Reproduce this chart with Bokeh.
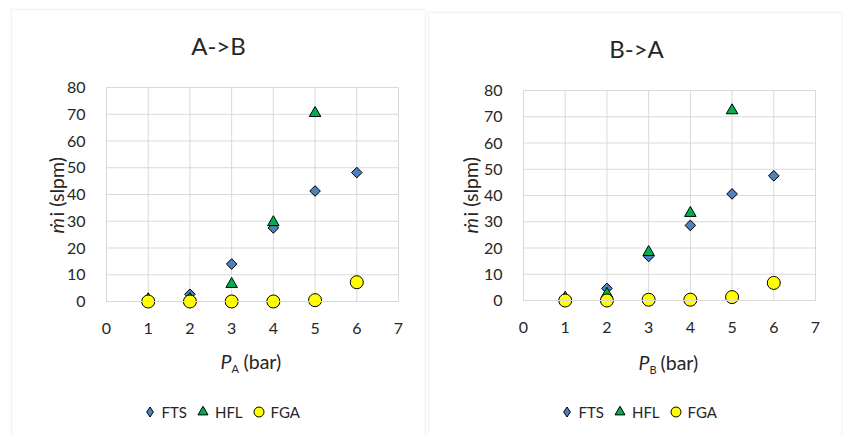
import math
from bokeh.plotting import figure
from bokeh.models import Label, BoxAnnotation, Legend, LegendItem, Range1d
from bokeh.layouts import row
from bokeh.embed import file_html
from bokeh.resources import INLINE

# Flow rate (slpm) vs. upstream pressure (bar) for the three devices
pressure = [1, 2, 3, 4, 5, 6]
hfl_pressure = [1, 2, 3, 4, 5]

ab_fts = [0.3, 2.7, 14.0, 27.5, 41.3, 48.2]
ab_hfl = [0.8, 0.9, 6.5, 29.6, 70.4]
ab_fga = [0.0, 0.0, 0.0, 0.0, 0.5, 7.2]

ba_fts = [0.3, 4.6, 16.8, 28.6, 40.6, 47.5]
ba_hfl = [1.0, 2.5, 18.4, 33.3, 72.4]
ba_fga = [0.0, 0.0, 0.3, 0.3, 1.3, 6.7]

x_ticks = [0, 1, 2, 3, 4, 5, 6, 7]
y_ticks = [0, 10, 20, 30, 40, 50, 60, 70, 80]
series_names = ["FTS", "HFL", "FGA"]

FONT = "Lato"
TEXT = "#262626"
GRID = "#d9d9d9"
BLUE = "#4f81bd"
GREEN = "#00b050"
YELLOW = "#ffff00"
H = 435
X_MIN, X_MAX = 0, 7
Y_MIN, Y_MAX = 0, 80
LABEL_SIZE = "19.5px"


def span_range(px_lo, px_hi, v_lo, v_hi, total, vertical=False):
    """Range over the whole canvas so that v_lo..v_hi lands on pixels px_lo..px_hi."""
    k = (v_hi - v_lo) / (px_hi - px_lo)

    def at(px):
        return v_lo + (px - px_lo) * k

    if vertical:  # canvas y grows downwards
        return Range1d(at(total), at(0))
    return Range1d(at(0), at(total))


def make_panel(title, sub, fts, hfl, fga, width, plot_box, border, title_xy, ylab_xy, xlab, leg_xy):
    left_px, right_px, top_px, bottom_px = plot_box
    p = figure(width=width, height=H, title=None,
               x_range=span_range(left_px, right_px, X_MIN, X_MAX, width),
               y_range=span_range(bottom_px, top_px, Y_MIN, Y_MAX, H, vertical=True),
               output_backend="svg", toolbar_location=None,
               min_border=0, background_fill_color="white", border_fill_color="white")
    p.outline_line_color = None
    p.xgrid.visible = False
    p.ygrid.visible = False

    # gridlines of the plot area (outer ones frame it)
    p.segment(x0=x_ticks, y0=Y_MIN, x1=x_ticks, y1=Y_MAX, line_color=GRID, line_width=1)
    p.segment(x0=X_MIN, y0=y_ticks, x1=X_MAX, y1=y_ticks, line_color=GRID, line_width=1)

    p.xaxis.fixed_location = Y_MIN
    p.yaxis.fixed_location = X_MIN
    p.xaxis.bounds = (X_MIN, X_MAX)
    p.yaxis.bounds = (Y_MIN, Y_MAX)
    for ax, ticks in ((p.xaxis, x_ticks), (p.yaxis, y_ticks)):
        ax.ticker = ticks
        ax.major_tick_line_color = None
        ax.minor_tick_line_color = None
        ax.axis_line_color = GRID
        ax.major_label_text_font = FONT
        ax.major_label_text_font_size = "16px"
        ax.major_label_text_color = TEXT
        ax.major_label_standoff = 15

    # diamond swatch for the legend, hidden under the rotated squares
    lf = p.scatter(pressure, fts, marker="diamond", size=10,
                   fill_color=BLUE, line_color="black", line_width=1)
    p.scatter(pressure, fts, marker="square", angle=math.pi / 4, size=7.5,
              fill_color=BLUE, line_color="black", line_width=1)
    lh = p.scatter(hfl_pressure, hfl, marker="triangle", size=11.5,
                   fill_color=GREEN, line_color="black", line_width=1)
    lg = p.scatter(pressure, fga, marker="circle", size=13,
                   fill_color=YELLOW, line_color="black", line_width=1)

    legend = Legend(items=[LegendItem(label=n, renderers=[r]) for n, r in zip(series_names, [lf, lh, lg])],
                    orientation="horizontal", location=leg_xy,
                    glyph_width=25, glyph_height=25, label_standoff=0, spacing=3,
                    padding=0, margin=0, border_line_color=None, background_fill_alpha=0,
                    label_text_font=FONT, label_text_font_size="15px", label_text_color=TEXT)
    p.add_layout(legend, "center")

    # chart area border
    p.add_layout(BoxAnnotation(left=border[0], right=border[1], top=H - border[2], bottom=-20,
                               left_units="screen", right_units="screen",
                               top_units="screen", bottom_units="screen",
                               fill_alpha=0, line_color=GRID, line_width=1.5))

    p.add_layout(Label(x=title_xy[0], y=H - title_xy[1], x_units="screen", y_units="screen",
                       text=title, text_align="center", text_baseline="middle",
                       text_font=FONT, text_font_size="24px", text_color=TEXT))

    # y axis title: italic m-dot followed by "i (slpm)"
    yx, yy = ylab_xy
    p.add_layout(Label(x=yx, y=H - yy, x_units="screen", y_units="screen", angle=math.pi / 2,
                       text="ṁ", text_align="left", text_baseline="middle",
                       text_font=FONT, text_font_style="italic", text_font_size=LABEL_SIZE,
                       text_color=TEXT))
    p.add_layout(Label(x=yx, y=H - yy + 17, x_units="screen", y_units="screen", angle=math.pi / 2,
                       text="i (slpm)", text_align="left", text_baseline="middle",
                       text_font=FONT, text_font_size=LABEL_SIZE, text_color=TEXT))

    # x axis title: italic P with subscript
    px_, sx_, bx_, base = xlab
    p.add_layout(Label(x=px_, y=H - base, x_units="screen", y_units="screen",
                       text="P", text_align="left", text_baseline="alphabetic",
                       text_font=FONT, text_font_style="italic", text_font_size=LABEL_SIZE,
                       text_color=TEXT))
    p.add_layout(Label(x=sx_, y=H - base - 7, x_units="screen", y_units="screen",
                       text=sub, text_align="left", text_baseline="alphabetic",
                       text_font=FONT, text_font_size="11px", text_color=TEXT))
    p.add_layout(Label(x=bx_, y=H - base, x_units="screen", y_units="screen",
                       text="(bar)", text_align="left", text_baseline="alphabetic",
                       text_font=FONT, text_font_size=LABEL_SIZE, text_color=TEXT))
    return p


left = make_panel("A->B", "A", ab_fts, ab_hfl, ab_fga, 427,
                  (106, 398, 87, 301), (11, 425, 9), (218, 45), (56, 233),
                  (220, 231, 243, 361), (136.5, 11))
right = make_panel("B->A", "B", ba_fts, ba_hfl, ba_fga, 416,
                   (96, 388, 90, 300), (1, 415, 12), (209, 48), (43, 233),
                   (211, 222, 233, 362), (126.5, 11))

layout = row(left, right)
open("out.html", "w").write(file_html(layout, INLINE))
